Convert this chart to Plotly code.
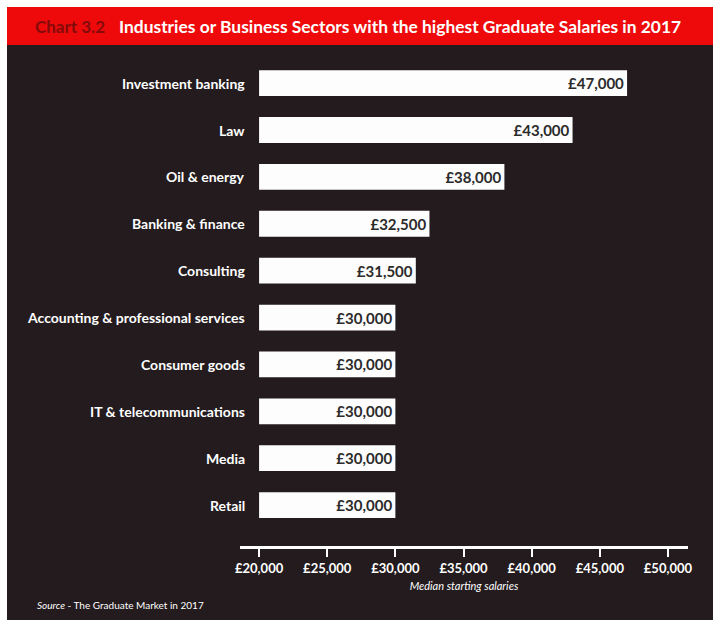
import plotly.graph_objects as go

# ---- data ----
categories = ["Investment banking", "Law", "Oil & energy", "Banking & finance", "Consulting",
              "Accounting & professional services", "Consumer goods", "IT & telecommunications",
              "Media", "Retail"]
salaries = [47000, 43000, 38000, 32500, 31500, 30000, 30000, 30000, 30000, 30000]
axis_start = 20000
tick_values = [20000, 25000, 30000, 35000, 40000, 45000, 50000]
tick_labels = ["£20,000", "£25,000", "£30,000", "£35,000", "£40,000", "£45,000", "£50,000"]
chart_number = "Chart 3.2"
chart_title = "Industries or Business Sectors with the highest Graduate Salaries in 2017"
x_title = "Median starting salaries"
source_text = "<i>Source</i> - The Graduate Market in 2017"

# bottom-to-top order
cats_plot = categories[::-1]
vals_plot = salaries[::-1]
labels_plot = [f"£{v:,}" for v in vals_plot]

W, H = 720, 630
L, R, T, B = 240, 32, 55, 84
pw, ph = W - L - R, H - T - B

def px(x):
    return (x - L) / pw

def py(y):
    return (H - B - y) / ph

FONT = "Lato"
PANEL = "#231b1d"
RED = "#ee0a0a"

fig = go.Figure()
fig.add_trace(go.Bar(
    y=cats_plot,
    x=[v - axis_start for v in vals_plot],
    base=axis_start,
    orientation="h",
    marker=dict(color="#fdfdfd", line=dict(width=0)),
    text=labels_plot,
    textposition="inside",
    insidetextanchor="end",
    textfont=dict(family=FONT, size=15, color="#2b2b2b", weight="bold"),
    cliponaxis=False,
    hoverinfo="skip",
))

shapes = [
    dict(type="rect", xref="paper", yref="paper", x0=px(7), x1=px(713), y0=py(620), y1=py(45),
         fillcolor=PANEL, line=dict(width=0), layer="below"),
    dict(type="rect", xref="paper", yref="paper", x0=px(7), x1=px(713), y0=py(45), y1=py(7),
         fillcolor=RED, line=dict(width=0), layer="below"),
]

annotations = [
    dict(text=chart_number, xref="paper", yref="paper", x=px(33), y=py(27), xanchor="left",
         yanchor="middle", showarrow=False,
         font=dict(family=FONT, size=17, color="#850a0a", weight="bold")),
    dict(text=chart_title, xref="paper", yref="paper", x=px(117), y=py(27), xanchor="left",
         yanchor="middle", showarrow=False,
         font=dict(family=FONT, size=17.4, color="white", weight="bold")),
    dict(text=source_text, xref="paper", yref="paper", x=px(35), y=py(605), xanchor="left",
         yanchor="middle", showarrow=False, font=dict(family=FONT, size=10, color="white")),
]
for c in cats_plot:
    annotations.append(dict(text=c, xref="paper", yref="y", x=px(247), y=c, xanchor="right",
                            yanchor="middle", showarrow=False,
                            font=dict(family=FONT, size=14, color="white", weight="bold")))

fig.update_layout(
    width=W, height=H,
    margin=dict(l=L, r=R, t=T, b=B, pad=0),
    paper_bgcolor="white",
    plot_bgcolor="rgba(0,0,0,0)",
    showlegend=False,
    bargap=0.45,
    shapes=shapes,
    annotations=annotations,
    font=dict(family=FONT, color="white"),
    xaxis=dict(
        range=[18600, 51470],
        tickvals=tick_values, ticktext=tick_labels,
        showline=True, linecolor="white", linewidth=3,
        ticks="outside", tickcolor="white", tickwidth=2, ticklen=8,
        tickfont=dict(family=FONT, size=13, color="white", weight="bold"),
        showgrid=False, zeroline=False,
        title=dict(text=f"<i>{x_title}</i>", font=dict(family=FONT, size=11, color="white"), standoff=8),
        fixedrange=True,
    ),
    yaxis=dict(
        type="category", categoryorder="array", categoryarray=cats_plot,
        range=[-0.874, 9.6], showticklabels=False, ticks="", showgrid=False,
        zeroline=False, showline=False, fixedrange=True,
    ),
)

fig.write_html("out.html")
